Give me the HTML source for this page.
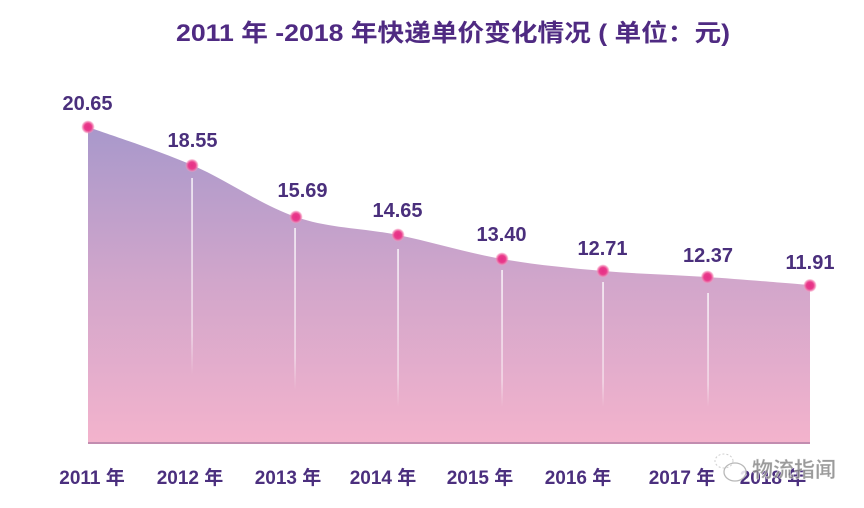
<!DOCTYPE html>
<html>
<head>
<meta charset="utf-8">
<style>
html,body{margin:0;padding:0;background:#fff;}
svg{display:block;}
text{font-family:"Liberation Sans","Noto Sans CJK SC",sans-serif;font-weight:bold;}
</style>
</head>
<body>
<svg width="864" height="508" viewBox="0 0 864 508" xmlns="http://www.w3.org/2000/svg">
<defs>
<linearGradient id="fill" gradientUnits="userSpaceOnUse" x1="0" y1="127" x2="0" y2="442">
<stop offset="0" stop-color="#a898cb"/>
<stop offset="0.5" stop-color="#d2a6cb"/>
<stop offset="1" stop-color="#f3b3cc"/>
</linearGradient>
<linearGradient id="vl" x1="0" y1="0" x2="0" y2="1">
<stop offset="0" stop-color="#ffffff" stop-opacity="0.9"/>
<stop offset="0.8" stop-color="#ffffff" stop-opacity="0.55"/>
<stop offset="1" stop-color="#ffffff" stop-opacity="0"/>
</linearGradient>
<radialGradient id="dot">
<stop offset="0" stop-color="#e62f86"/>
<stop offset="0.55" stop-color="#e93a8b"/>
<stop offset="0.8" stop-color="#f070a8" stop-opacity="0.8"/>
<stop offset="1" stop-color="#f7a0c4" stop-opacity="0.3"/>
</radialGradient>
</defs>

<text x="176" y="41" font-size="24" fill="#4f2a82" textLength="554" lengthAdjust="spacingAndGlyphs">2011 年 -2018 年快递单价变化情况 ( 单位：元)</text>

<path d="M88,127 C105.3,133.3 157.3,150 192,165 C226.7,180 261.7,205.3 296,217 C330.3,228.7 363.7,228 398,235 C432.3,242 467.8,253 502,259 C536.2,265 568.8,268 603,271 C637.2,274 672.5,274.7 707,277 C741.5,279.3 792.8,283.7 810,285 L810,442 L88,442 Z" fill="url(#fill)"/>

<rect x="88" y="442" width="722" height="2" fill="#c28db0"/>

<g>
<rect x="191.3" y="178" width="1.5" height="197" fill="url(#vl)"/>
<rect x="294.3" y="228" width="1.5" height="162" fill="url(#vl)"/>
<rect x="397.3" y="249" width="1.5" height="158" fill="url(#vl)"/>
<rect x="501.3" y="270" width="1.5" height="137" fill="url(#vl)"/>
<rect x="602.3" y="282" width="1.5" height="125" fill="url(#vl)"/>
<rect x="707.3" y="293" width="1.5" height="114" fill="url(#vl)"/>
</g>

<g fill="url(#dot)">
<circle cx="88" cy="127" r="6.5"/>
<circle cx="192" cy="165.5" r="6.5"/>
<circle cx="296" cy="217" r="6.5"/>
<circle cx="398" cy="235" r="6.5"/>
<circle cx="502" cy="259" r="6.5"/>
<circle cx="603" cy="271" r="6.5"/>
<circle cx="707.5" cy="277" r="6.5"/>
<circle cx="810" cy="285.5" r="6.5"/>
</g>

<g font-size="20" fill="#4a2f7c" text-anchor="middle">
<text x="87.5" y="110">20.65</text>
<text x="192.5" y="147">18.55</text>
<text x="302.5" y="197">15.69</text>
<text x="397.5" y="217">14.65</text>
<text x="501.5" y="241">13.40</text>
<text x="602.5" y="255">12.71</text>
<text x="708" y="262">12.37</text>
<text x="810" y="269">11.91</text>
</g>

<g font-size="19" fill="#4b2f7e" text-anchor="middle">
<text x="92" y="484">2011 年</text>
<text x="190" y="484">2012 年</text>
<text x="288" y="484">2013 年</text>
<text x="383" y="484">2014 年</text>
<text x="480" y="484">2015 年</text>
<text x="578" y="484">2016 年</text>
<text x="682" y="484">2017 年</text>
<text x="773" y="484">2018 年</text>
</g>

<!-- watermark -->
<g>
<ellipse cx="735" cy="472" rx="11" ry="9" fill="rgba(255,255,255,0.85)" stroke="#b8b8b8" stroke-width="1.3"/>
<ellipse cx="724" cy="461" rx="9" ry="7" fill="none" stroke="#cfcfcf" stroke-width="1" stroke-dasharray="2 2"/>
<text x="752" y="477" font-size="21" font-weight="normal" fill="#8a8a8a" fill-opacity="0.85" stroke="#ffffff" stroke-width="0.6" stroke-opacity="0.6">物流指闻</text>
</g>
</svg>
</body>
</html>
